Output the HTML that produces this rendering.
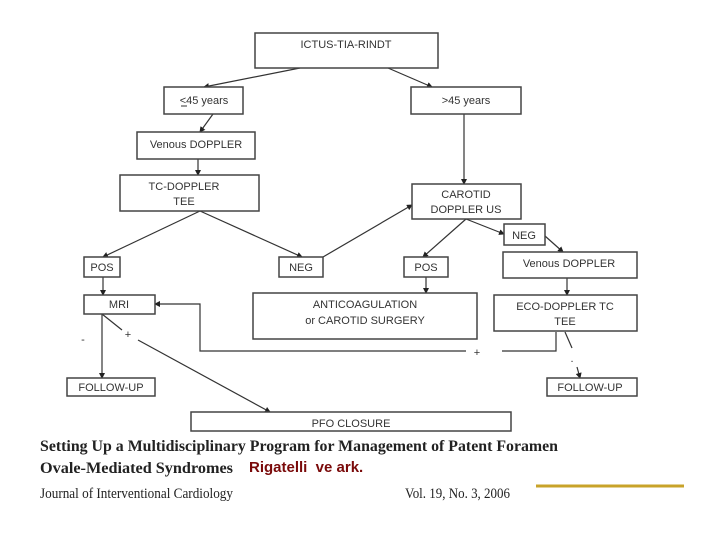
<!DOCTYPE html>
<html><head><meta charset="utf-8"><style>
html,body{margin:0;padding:0;background:#fff;width:720px;height:540px;overflow:hidden}
svg{display:block}
.b{fill:#fff;stroke:#444;stroke-width:1.5}
.t{font-family:"Liberation Sans",sans-serif;font-size:11px;fill:#333;text-anchor:middle}
.l{stroke:#333;stroke-width:1.2;fill:none}
.s{font-family:"Liberation Serif",serif;fill:#222}
</style></head><body>
<svg width="720" height="540" viewBox="0 0 720 540">
<defs><marker id="a" markerWidth="6" markerHeight="6" refX="5" refY="3" orient="auto" markerUnits="userSpaceOnUse"><path d="M0,0 L6,3 L0,6z" fill="#222"/></marker></defs>
<g class="l">
<line x1="300" y1="68" x2="204" y2="87" marker-end="url(#a)"/>
<line x1="388" y1="68" x2="432" y2="87" marker-end="url(#a)"/>
<line x1="213" y1="114" x2="200" y2="132" marker-end="url(#a)"/>
<line x1="198" y1="159" x2="198" y2="175" marker-end="url(#a)"/>
<line x1="200" y1="211" x2="103" y2="257" marker-end="url(#a)"/>
<line x1="200" y1="211" x2="302" y2="257" marker-end="url(#a)"/>
<line x1="323" y1="257" x2="412" y2="205" marker-end="url(#a)"/>
<line x1="464" y1="114" x2="464" y2="184" marker-end="url(#a)"/>
<line x1="466" y1="219" x2="423" y2="257" marker-end="url(#a)"/>
<line x1="466" y1="219" x2="504" y2="234" marker-end="url(#a)"/>
<line x1="545" y1="236" x2="563" y2="252" marker-end="url(#a)"/>
<line x1="426" y1="277" x2="426" y2="293" marker-end="url(#a)"/>
<line x1="567" y1="278" x2="567" y2="295" marker-end="url(#a)"/>
<line x1="103" y1="277" x2="103" y2="295" marker-end="url(#a)"/>
<line x1="102" y1="314" x2="102" y2="378" marker-end="url(#a)"/>
<line x1="102" y1="314" x2="122" y2="330"/>
<line x1="138" y1="340" x2="270" y2="412" marker-end="url(#a)"/>
<polyline points="466,351 200,351 200,304 155,304" marker-end="url(#a)"/>
<polyline points="502,351 556,351 556,332"/>
<line x1="565" y1="332" x2="572" y2="348"/>
<line x1="577" y1="367" x2="580" y2="378" marker-end="url(#a)"/>
</g>
<g class="t">
<text x="128" y="338">+</text><text x="477" y="356">+</text>
<text x="83" y="343">-</text><text x="572" y="362">.</text>
</g>
<rect class="b" x="255" y="33" width="183" height="35"/><text class="t" x="346" y="48">ICTUS-TIA-RINDT</text>
<rect class="b" x="164" y="87" width="79" height="27"/><text class="t" x="204" y="104">&lt;45 years</text><line x1="181" y1="106" x2="187" y2="106" stroke="#333"/>
<rect class="b" x="411" y="87" width="110" height="27"/><text class="t" x="466" y="104">&gt;45 years</text>
<rect class="b" x="137" y="132" width="118" height="27"/><text class="t" x="196" y="148">Venous DOPPLER</text>
<rect class="b" x="120" y="175" width="139" height="36"/><text class="t" x="184" y="190">TC-DOPPLER</text><text class="t" x="184" y="205">TEE</text>
<rect class="b" x="412" y="184" width="109" height="35"/><text class="t" x="466" y="198">CAROTID</text><text class="t" x="466" y="213">DOPPLER US</text>
<rect class="b" x="504" y="224" width="41" height="21"/><text class="t" x="524" y="239">NEG</text>
<rect class="b" x="84" y="257" width="36" height="20"/><text class="t" x="102" y="271">POS</text>
<rect class="b" x="279" y="257" width="44" height="20"/><text class="t" x="301" y="271">NEG</text>
<rect class="b" x="404" y="257" width="44" height="20"/><text class="t" x="426" y="271">POS</text>
<rect class="b" x="503" y="252" width="134" height="26"/><text class="t" x="569" y="267">Venous DOPPLER</text>
<rect class="b" x="84" y="295" width="71" height="19"/><text class="t" x="119" y="308">MRI</text>
<rect class="b" x="253" y="293" width="224" height="46"/><text class="t" x="365" y="308">ANTICOAGULATION</text><text class="t" x="365" y="324">or CAROTID SURGERY</text>
<rect class="b" x="494" y="295" width="143" height="36"/><text class="t" x="565" y="310">ECO-DOPPLER TC</text><text class="t" x="565" y="325">TEE</text>
<rect class="b" x="67" y="378" width="88" height="18"/><text class="t" x="111" y="391">FOLLOW-UP</text>
<rect class="b" x="547" y="378" width="90" height="18"/><text class="t" x="590" y="391">FOLLOW-UP</text>
<rect class="b" x="191" y="412" width="320" height="19"/><text class="t" x="351" y="427">PFO CLOSURE</text>
<text class="s" x="40" y="451" font-size="16" font-weight="bold" textLength="518" lengthAdjust="spacingAndGlyphs">Setting Up a Multidisciplinary Program for Management of Patent Foramen</text>
<text class="s" x="40" y="473" font-size="16" font-weight="bold" textLength="193" lengthAdjust="spacingAndGlyphs">Ovale-Mediated Syndromes</text>
<text x="249" y="472" font-family="Liberation Sans,sans-serif" font-size="15" font-weight="bold" fill="#7a0a0a">Rigatelli&#160; ve ark.</text>
<text class="s" x="40" y="498" font-size="15" textLength="193" lengthAdjust="spacingAndGlyphs">Journal of Interventional Cardiology</text>
<text class="s" x="405" y="498" font-size="15" textLength="105" lengthAdjust="spacingAndGlyphs">Vol. 19, No. 3, 2006</text>
<line x1="536" y1="486" x2="684" y2="486" stroke="#c8a32a" stroke-width="3"/>
</svg>
</body></html>
